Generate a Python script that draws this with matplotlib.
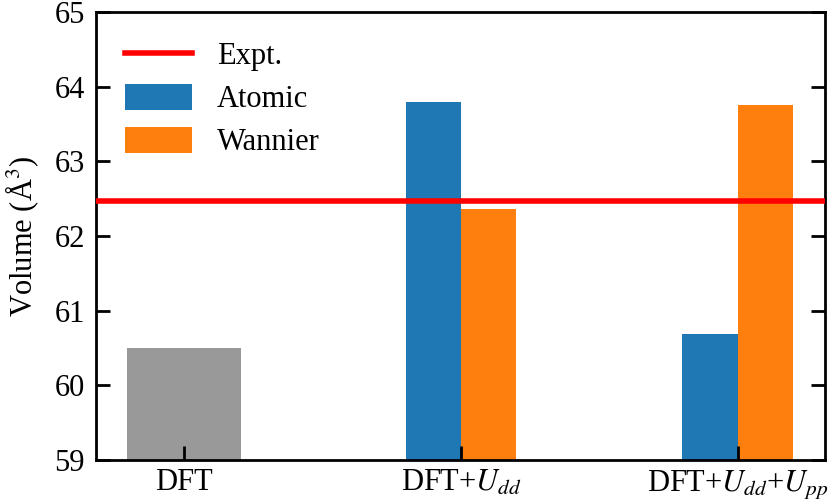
import numpy as np
import matplotlib
matplotlib.use('Agg')
import matplotlib.pyplot as plt

plt.rcParams['font.family'] = ['Liberation Serif', 'DejaVu Serif']
plt.rcParams['mathtext.fontset'] = 'stix'
plt.rcParams['font.size'] = 22

categories = ['DFT', r'DFT+$U_{dd}$', r'DFT+$U_{dd}$+$U_{pp}$']
dft_volume = 60.50
atomic = [63.80, 60.69]
wannier = [62.36, 63.75]
expt = 62.47

x = np.arange(len(categories))

fig = plt.figure(figsize=(8.3, 5.04), dpi=100)
ax = fig.add_axes([0.1157, 0.0873, 0.8783, 0.8887])

ax.bar(x[0], dft_volume - 59, bottom=59, width=0.41, color='#999999')
ax.bar(x[1:] - 0.1, np.array(atomic) - 59, bottom=59, width=0.2,
       color='tab:blue', label='Atomic')
ax.bar(x[1:] + 0.1, np.array(wannier) - 59, bottom=59, width=0.2,
       color='tab:orange', label='Wannier')
ax.axhline(expt, color='red', lw=4, label='Expt.', zorder=3)

ax.set_xlim(-0.318, 2.315)
ax.set_ylim(59, 65)
ax.set_xticks(x)
ax.set_xticklabels(categories)
ax.set_yticks(range(59, 66))
ax.set_ylabel(r'Volume (Å$^3$)', labelpad=10)

for s in ax.spines.values():
    s.set_linewidth(2)
ax.tick_params(axis='y', direction='in', length=10, width=2, right=True, pad=8)
ax.tick_params(axis='x', direction='in', length=10, width=2, pad=6)

ax.legend(loc='upper left', frameon=False, handlelength=2.2, handleheight=0.9,
          labelspacing=0.42, borderaxespad=0.55, handletextpad=0.8)

fig.savefig('out.png', dpi=100)
